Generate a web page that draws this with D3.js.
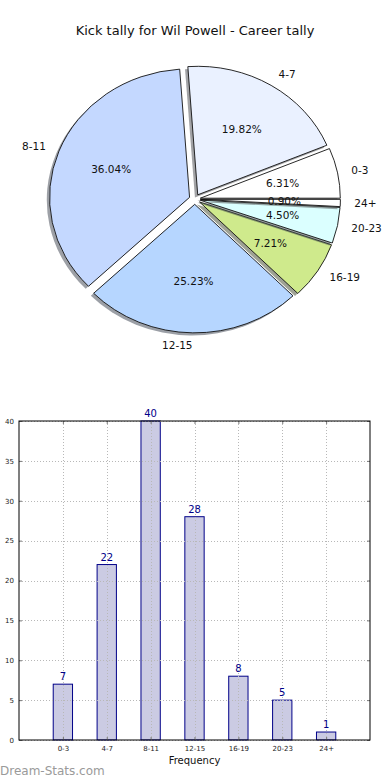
<!DOCTYPE html>
<html>
<head>
<meta charset="utf-8">
<script src="https://cdn.jsdelivr.net/npm/d3@7"></script>
<style>
  body { margin: 0; background: #fff; }
  svg { display: block; font-family: "DejaVu Sans", sans-serif; }
</style>
</head>
<body>
<svg id="chart" width="390" height="780"></svg>
<script>
var categories = ["0-3", "4-7", "8-11", "12-15", "16-19", "20-23", "24+"];
var kicks = [7, 22, 40, 28, 8, 5, 1];
var sliceColors = ["#ffffff", "#eaf1ff", "#c4d8ff", "#b6d6ff", "#cfea8c", "#dbffff", "#ffffff"];
var yTickValues = [0, 5, 10, 15, 20, 25, 30, 35, 40];

var svg = d3.select("#chart");

svg.append("text")
    .attr("x", 195).attr("y", 35)
    .attr("text-anchor", "middle")
    .attr("font-size", 13)
    .attr("fill", "#111")
    .text("Kick tally for Wil Powell - Career tally");

// ---- pie (matplotlib style: starts at 3 o'clock, counter clockwise)
var cx = 194.8, cy = 199.2, R = 140, ky = 0.918;
var explode = 0.04;
var total = d3.sum(kicks);

var pie = d3.pie().sort(null)
    .startAngle(Math.PI / 2)
    .endAngle(Math.PI / 2 - 2 * Math.PI);
var arcs = pie(kicks);
var arc = d3.arc().innerRadius(0).outerRadius(R);

var pieG = svg.append("g")
    .attr("transform", "translate(" + cx + "," + cy + ") scale(1," + ky + ")");

function mid(d) { return (d.startAngle + d.endAngle) / 2; }

arcs.forEach(function(d, i) {
    var a = mid(d);
    var ox = Math.sin(a) * explode * R, oy = -Math.cos(a) * explode * R;
    var c = d3.rgb(sliceColors[i]);
    pieG.append("path")
        .attr("d", arc(d))
        .attr("transform", "translate(" + (ox - 0.02 * R) + "," + (oy + 0.02 * R) + ")")
        .attr("fill", d3.rgb(c.r * 0.3, c.g * 0.3, c.b * 0.3))
        .attr("fill-opacity", 0.5);
    pieG.append("path")
        .attr("d", arc(d))
        .attr("transform", "translate(" + ox + "," + oy + ")")
        .attr("fill", sliceColors[i])
        .attr("stroke", "#111")
        .attr("stroke-width", 0.9)
        .attr("vector-effect", "non-scaling-stroke");
});

arcs.forEach(function(d, i) {
    var a = mid(d), s = Math.sin(a), c = Math.cos(a);
    svg.append("text")
        .attr("x", cx + s * (1.1 + explode) * R)
        .attr("y", cy - c * (1.1 + explode) * R * ky)
        .attr("dy", "0.35em")
        .attr("text-anchor", s > 0 ? "start" : "end")
        .attr("font-size", 10.5)
        .attr("fill", "#111")
        .text(categories[i]);
    svg.append("text")
        .attr("x", cx + s * (0.6 + explode) * R)
        .attr("y", cy - c * (0.6 + explode) * R * ky)
        .attr("dy", "0.35em")
        .attr("text-anchor", "middle")
        .attr("font-size", 10.5)
        .attr("fill", "#111")
        .text(d3.format(".2f")(d.data / total * 100) + "%");
});

// ---- bar chart
var plotL = 19, plotR = 370, plotT = 421, plotB = 740;
var x = d3.scaleLinear().domain([0, categories.length + 1]).range([plotL, plotR]);
var y = d3.scaleLinear().domain([0, 40]).range([plotB, plotT]);
var barW = 0.44;
var xPos = categories.map(function(c, i) { return i + 1; });

svg.append("g").selectAll("rect")
    .data(kicks)
    .enter().append("rect")
    .attr("x", function(d, i) { return x(xPos[i] - barW / 2); })
    .attr("y", function(d) { return y(d); })
    .attr("width", function(d, i) { return x(xPos[i] + barW / 2) - x(xPos[i] - barW / 2); })
    .attr("height", function(d) { return y(0) - y(d); })
    .attr("fill", "#cbcbe3")
    .attr("stroke", "#000088")
    .attr("stroke-width", 1);

// grid on top of the bars
var grid = svg.append("g")
    .attr("stroke", "#b8b8b8")
    .attr("stroke-width", 1)
    .attr("stroke-dasharray", "1,2");
grid.selectAll(".gy").data(yTickValues).enter().append("line")
    .attr("x1", plotL).attr("x2", plotR)
    .attr("y1", function(d) { return Math.round(y(d)) + 0.5; })
    .attr("y2", function(d) { return Math.round(y(d)) + 0.5; });
grid.selectAll(".gx").data(xPos).enter().append("line")
    .attr("y1", plotT).attr("y2", plotB)
    .attr("x1", function(d) { return Math.round(x(d)) + 0.5; })
    .attr("x2", function(d) { return Math.round(x(d)) + 0.5; });

// inward ticks on all four sides
var axisL = d3.axisLeft(y).tickValues(yTickValues).tickSizeInner(-3).tickSizeOuter(0).tickPadding(5);
var axisR = d3.axisRight(y).tickValues(yTickValues).tickSizeInner(-3).tickSizeOuter(0).tickFormat("");
var axisB = d3.axisBottom(x).tickValues(xPos).tickSizeInner(-3).tickSizeOuter(0).tickPadding(6)
    .tickFormat(function(d) { return categories[d - 1]; });
var axisT = d3.axisTop(x).tickValues(xPos).tickSizeInner(-3).tickSizeOuter(0).tickFormat("");

function styleAxis(g) {
    g.select(".domain").remove();
    g.selectAll(".tick line").attr("stroke", "#777");
    g.selectAll("text").attr("font-size", 7).attr("fill", "#222")
        .attr("font-family", "\"DejaVu Sans\", sans-serif");
}
svg.append("g").attr("transform", "translate(" + plotL + ",0)").call(axisL).call(styleAxis);
svg.append("g").attr("transform", "translate(" + plotR + ",0)").call(axisR).call(styleAxis);
svg.append("g").attr("transform", "translate(0," + plotB + ")").call(axisB).call(styleAxis);
svg.append("g").attr("transform", "translate(0," + plotT + ")").call(axisT).call(styleAxis);

svg.append("rect")
    .attr("x", plotL).attr("y", plotT)
    .attr("width", plotR - plotL).attr("height", plotB - plotT)
    .attr("fill", "none").attr("stroke", "#000").attr("stroke-width", 1);

svg.append("g").selectAll("text")
    .data(kicks)
    .enter().append("text")
    .attr("x", function(d, i) { return x(xPos[i]); })
    .attr("y", function(d) { return y(d) - 4; })
    .attr("text-anchor", "middle")
    .attr("font-size", 10)
    .attr("fill", "#000088")
    .text(function(d) { return d; });

svg.append("text")
    .attr("x", (plotL + plotR) / 2).attr("y", 764)
    .attr("text-anchor", "middle")
    .attr("font-size", 10)
    .attr("fill", "#111")
    .text("Frequency");

svg.append("text")
    .attr("x", 0).attr("y", 775)
    .attr("font-size", 12)
    .attr("fill", "#9a9a9a")
    .text("Dream-Stats.com");
</script>
</body>
</html>
